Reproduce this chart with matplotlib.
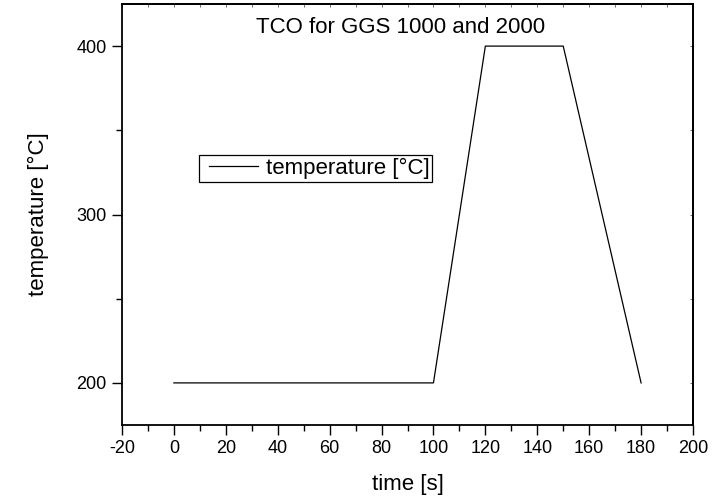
import matplotlib
matplotlib.use("Agg")
import matplotlib.pyplot as plt
from matplotlib.ticker import MultipleLocator
from matplotlib.lines import Line2D
from matplotlib.legend_handler import HandlerLine2D

plt.rcParams['font.family'] = ['Liberation Sans', 'DejaVu Sans']
plt.rcParams['axes.unicode_minus'] = False

time_s = [0, 100, 120, 150, 180]
temperature_c = [200, 200, 400, 400, 200]

fig = plt.figure(figsize=(7.23, 4.96), dpi=100)
ax = fig.add_axes([122/723, 1-425/496, (693-122)/723, (425-4)/496])

ax.plot(time_s, temperature_c, color='black', linewidth=0.9, label='temperature [°C]')

ax.set_xlim(-20, 200)
ax.set_ylim(175, 425)
ax.xaxis.set_major_locator(MultipleLocator(20))
ax.xaxis.set_minor_locator(MultipleLocator(10))
ax.yaxis.set_major_locator(MultipleLocator(100))
ax.yaxis.set_minor_locator(MultipleLocator(50))

ax.tick_params(which='both', direction='out', top=False, right=False, labelsize=13, width=1.0)
ax.tick_params(which='major', length=7, pad=4)
ax.tick_params(which='minor', length=4)

# inward ticks on top and right
axt = ax.secondary_xaxis('top')
axt.xaxis.set_major_locator(MultipleLocator(20))
axt.xaxis.set_minor_locator(MultipleLocator(10))
axt.tick_params(which='both', direction='in', length=2, width=0.6, color='#555555', labeltop=False)
axr = ax.secondary_yaxis('right')
axr.yaxis.set_major_locator(MultipleLocator(100))
axr.yaxis.set_minor_locator(MultipleLocator(50))
axr.tick_params(which='both', direction='in', length=2, width=0.6, color='#555555', labelright=False)
for sp in ax.spines.values():
    sp.set_linewidth(1.3)
axt.spines['top'].set_linewidth(1.3)
axr.spines['right'].set_linewidth(1.3)

ax.set_xlabel('time [s]', fontsize=16, labelpad=12)
ax.set_ylabel('temperature [°C]', fontsize=16, labelpad=20)
ax.text(0.487, 0.931, 'TCO for GGS 1000 and 2000', transform=ax.transAxes,
        ha='center', va='baseline', fontsize=16)

leg = ax.legend(loc='upper left', bbox_to_anchor=(0.135, 0.641), fontsize=16,
                frameon=True, fancybox=False, framealpha=1, edgecolor='black',
                borderpad=0.12, handlelength=2.52, handletextpad=0.36, borderaxespad=0,
                handler_map={Line2D: HandlerLine2D(xpad=0.315)})
leg.get_frame().set_linewidth(0.9)

fig.savefig('out.png', dpi=100)
